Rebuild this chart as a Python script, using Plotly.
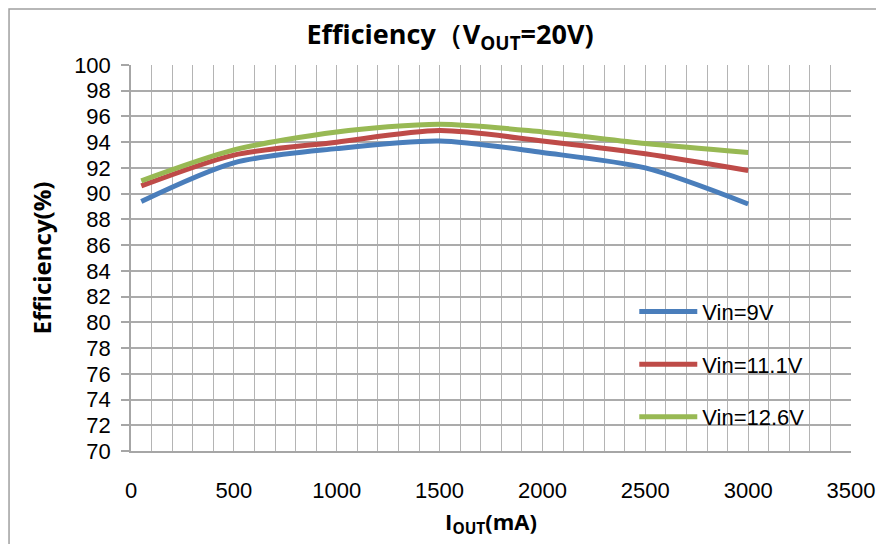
import plotly.graph_objects as go

iout_ma = [50, 500, 1000, 1500, 2000, 2500, 3000]
eff_9v = [89.4, 92.4, 93.5, 94.1, 93.2, 92.0, 89.2]
eff_11v1 = [90.6, 93.0, 94.0, 94.9, 94.1, 93.1, 91.8]
eff_12v6 = [91.0, 93.4, 94.8, 95.4, 94.8, 93.9, 93.2]
series_names = ["Vin=9V", "Vin=11.1V", "Vin=12.6V"]
series_colors = ["#4A7EBB", "#BE4B48", "#98B954"]
x_ticks = [0, 500, 1000, 1500, 2000, 2500, 3000, 3500]
y_ticks = list(range(70, 101, 2))

FONT = "Liberation Sans"
BOLD_FONT = "Open Sans"

fig = go.Figure()
for name, ys, col in zip(series_names, [eff_9v, eff_11v1, eff_12v6], series_colors):
    fig.add_trace(go.Scatter(
        x=iout_ma, y=ys, name=name, mode="lines",
        line=dict(color=col, width=5, shape="spline", smoothing=0.8),
        legendgroup=name,
    ))

# page has an 8px body margin, so the figure is sized 876x536 to fill the window
fig.update_layout(
    width=876, height=536,
    margin=dict(l=123, r=33, t=57, b=93, autoexpand=False),
    paper_bgcolor="white", plot_bgcolor="white",
    font=dict(family=FONT, size=22, color="black"),
    title=dict(
        text="<b>Efficiency（V<sub>OUT</sub>=20V)</b>",
        x=0.5046, xref="container", xanchor="center",
        y=0.9496, yref="container", yanchor="middle",
        font=dict(family=BOLD_FONT, size=27, color="black"),
    ),
    showlegend=True,
    legend=dict(
        x=0.699, y=0.415, xanchor="left", yanchor="top",
        bgcolor="rgba(0,0,0,0)", borderwidth=0,
        traceorder="grouped", tracegroupgap=21, itemwidth=58,
        font=dict(family=FONT, size=22, color="black"),
    ),
    xaxis=dict(
        range=[0, 3500], tickvals=x_ticks, ticks="",
        showgrid=True, gridcolor="#B4B4B4", gridwidth=1.4,
        minor=dict(dtick=100, tick0=0, showgrid=True, gridcolor="#B4B4B4", gridwidth=1.4),
        showline=True, linecolor="#A6A6A6", linewidth=1.5,
        zeroline=False, ticklabelstandoff=19, automargin=False,
        title=dict(text="<b>I<sub>OUT</sub>(mA)</b>", standoff=12,
                   font=dict(family=BOLD_FONT, size=22)),
        fixedrange=True,
    ),
    yaxis=dict(
        range=[70, 100], tickvals=y_ticks, ticks="outside", ticklen=8,
        tickcolor="#A6A6A6", tickwidth=1.5,
        showgrid=True, gridcolor="#ABABAB", gridwidth=1.7,
        showline=True, linecolor="#A6A6A6", linewidth=1.5,
        zeroline=False, ticklabelstandoff=6, automargin=False,
        title=dict(text="<b>Efficiency(%)</b>", standoff=16,
                   font=dict(family=BOLD_FONT, size=24)),
        fixedrange=True,
    ),
)

fig.add_shape(type="rect", xref="paper", yref="paper",
              x0=-0.1694, x1=1.0389, y0=-0.26, y1=1.145,
              line=dict(color="#A0A0A0", width=1.5), fillcolor="rgba(0,0,0,0)", layer="below")

fig.write_html("out.html")
